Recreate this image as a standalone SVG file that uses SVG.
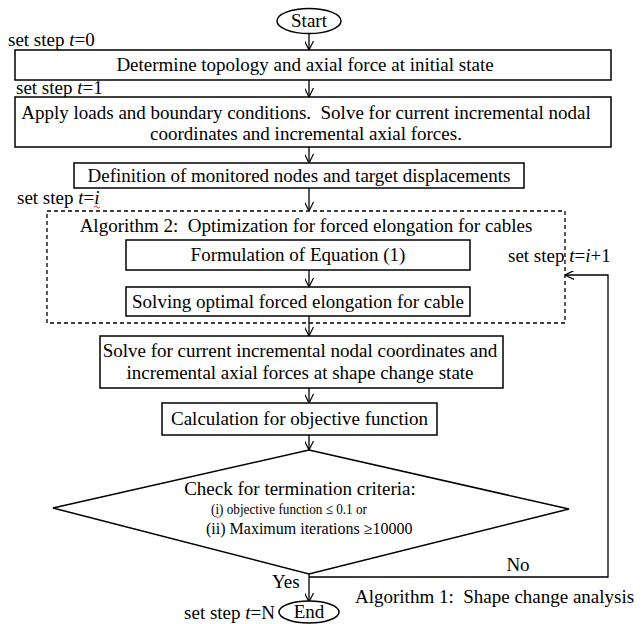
<svg xmlns="http://www.w3.org/2000/svg" width="642" height="624" viewBox="0 0 642 624">
<defs>
<marker id="ah" viewBox="0 0 10 10" refX="10" refY="5" markerWidth="9" markerHeight="9" markerUnits="userSpaceOnUse" orient="auto">
<path d="M0,0 L10,5 L0,10" fill="none" stroke="#000" stroke-width="1.3"/>
</marker>
<style>
.t{font-family:"Liberation Serif","Times New Roman",serif;font-size:19px;fill:#000}
.m{text-anchor:middle}
.s2{font-size:15px}
.s3{font-size:16px}
.b{fill:#fff;stroke:#000;stroke-width:1.5}
.c{fill:none;stroke:#000;stroke-width:1.3}
.sq{fill:none;stroke:#e03030;stroke-width:1}
</style>
</defs>
<rect width="642" height="624" fill="#fff"/>
<g id="connectors" class="c">
<line x1="309" y1="33.5" x2="309" y2="50" marker-end="url(#ah)"/>
<line x1="309" y1="80" x2="309" y2="97" marker-end="url(#ah)"/>
<line x1="309" y1="147" x2="309" y2="163" marker-end="url(#ah)"/>
<line x1="309" y1="188" x2="309" y2="211" marker-end="url(#ah)"/>
<line x1="309" y1="270" x2="309" y2="287" marker-end="url(#ah)"/>
<line x1="309" y1="316" x2="309" y2="336" marker-end="url(#ah)"/>
<line x1="309" y1="388" x2="309" y2="403" marker-end="url(#ah)"/>
<line x1="309" y1="435" x2="309" y2="450" marker-end="url(#ah)"/>
<line x1="309" y1="574" x2="309" y2="602" marker-end="url(#ah)"/>
<polyline points="309,577 608,577 608,275 565,275" marker-end="url(#ah)"/>
</g>
<g id="start"><ellipse class="b" cx="309" cy="21" rx="32" ry="12.5"/><text class="t m" x="309" y="27">Start</text></g>
<text class="t" x="8" y="46">set step <tspan font-style="italic">t</tspan>=0</text>
<g id="n1"><rect class="b" x="15" y="50" width="596" height="30"/><text class="t m" x="305" y="71">Determine topology and axial force at initial state</text></g>
<text class="t" x="16" y="94">set step <tspan font-style="italic">t</tspan>=1</text>
<g id="n2"><rect class="b" x="15" y="97" width="596" height="50"/><text class="t m" x="306" y="119" xml:space="preserve">Apply loads and boundary conditions.  Solve for current incremental nodal</text><text class="t m" x="306" y="140">coordinates and incremental axial forces.</text></g>
<g id="n3"><rect class="b" x="74" y="163" width="450" height="25"/><text class="t m" x="299" y="182">Definition of monitored nodes and target displacements</text></g>
<text class="t" x="17" y="204">set step <tspan font-style="italic">t</tspan>=<tspan font-style="italic">i</tspan></text>
<path class="sq" d="M94,207 q1.5,-2 3,0 t3,0"/>
<g id="alg2"><rect x="47" y="211" width="518" height="112" fill="none" stroke="#000" stroke-width="1.3" stroke-dasharray="4,3"/><text class="t m" x="306" y="232" xml:space="preserve">Algorithm 2:  Optimization for forced elongation for cables</text></g>
<g id="n4"><rect class="b" x="126" y="240" width="344" height="30"/><text class="t m" x="298" y="261">Formulation of Equation (1)</text></g>
<g id="n5"><rect class="b" x="126" y="287" width="344" height="29"/><text class="t m" x="298" y="308">Solving optimal forced elongation for cable</text></g>
<text class="t" x="508" y="262">set step <tspan font-style="italic">t</tspan>=<tspan font-style="italic">i</tspan>+1</text>
<g id="n6"><rect class="b" x="100" y="336" width="403" height="52"/><text class="t m" x="300" y="357">Solve for current incremental nodal coordinates and</text><text class="t m" x="300" y="379">incremental axial forces at shape change state</text></g>
<g id="n7"><rect class="b" x="162" y="403" width="275" height="32"/><text class="t m" x="299.5" y="425">Calculation for objective function</text></g>
<g id="n8"><polygon class="b" points="309,450 569,509 309,574 53,508"/><text class="t m" x="300" y="495">Check for termination criteria:</text><text class="t s2" x="211" y="514" textLength="156" lengthAdjust="spacingAndGlyphs">(i) objective function ≤ 0.1 or</text><text class="t s3" x="206" y="534">(ii) Maximum iterations ≥10000</text></g>
<path class="sq" d="M215,517 q1.2,-1.6 2.4,0 t2.4,0"/>
<text class="t m" x="518" y="571">No</text>
<text class="t" x="272" y="588">Yes</text>
<g id="end"><ellipse class="b" cx="309" cy="612" rx="30" ry="11"/><text class="t m" x="309" y="618">End</text></g>
<text class="t" x="275" y="619" text-anchor="end">set step <tspan font-style="italic">t</tspan>=N</text>
<text class="t" x="355" y="603" xml:space="preserve">Algorithm 1:  Shape change analysis</text>
</svg>
